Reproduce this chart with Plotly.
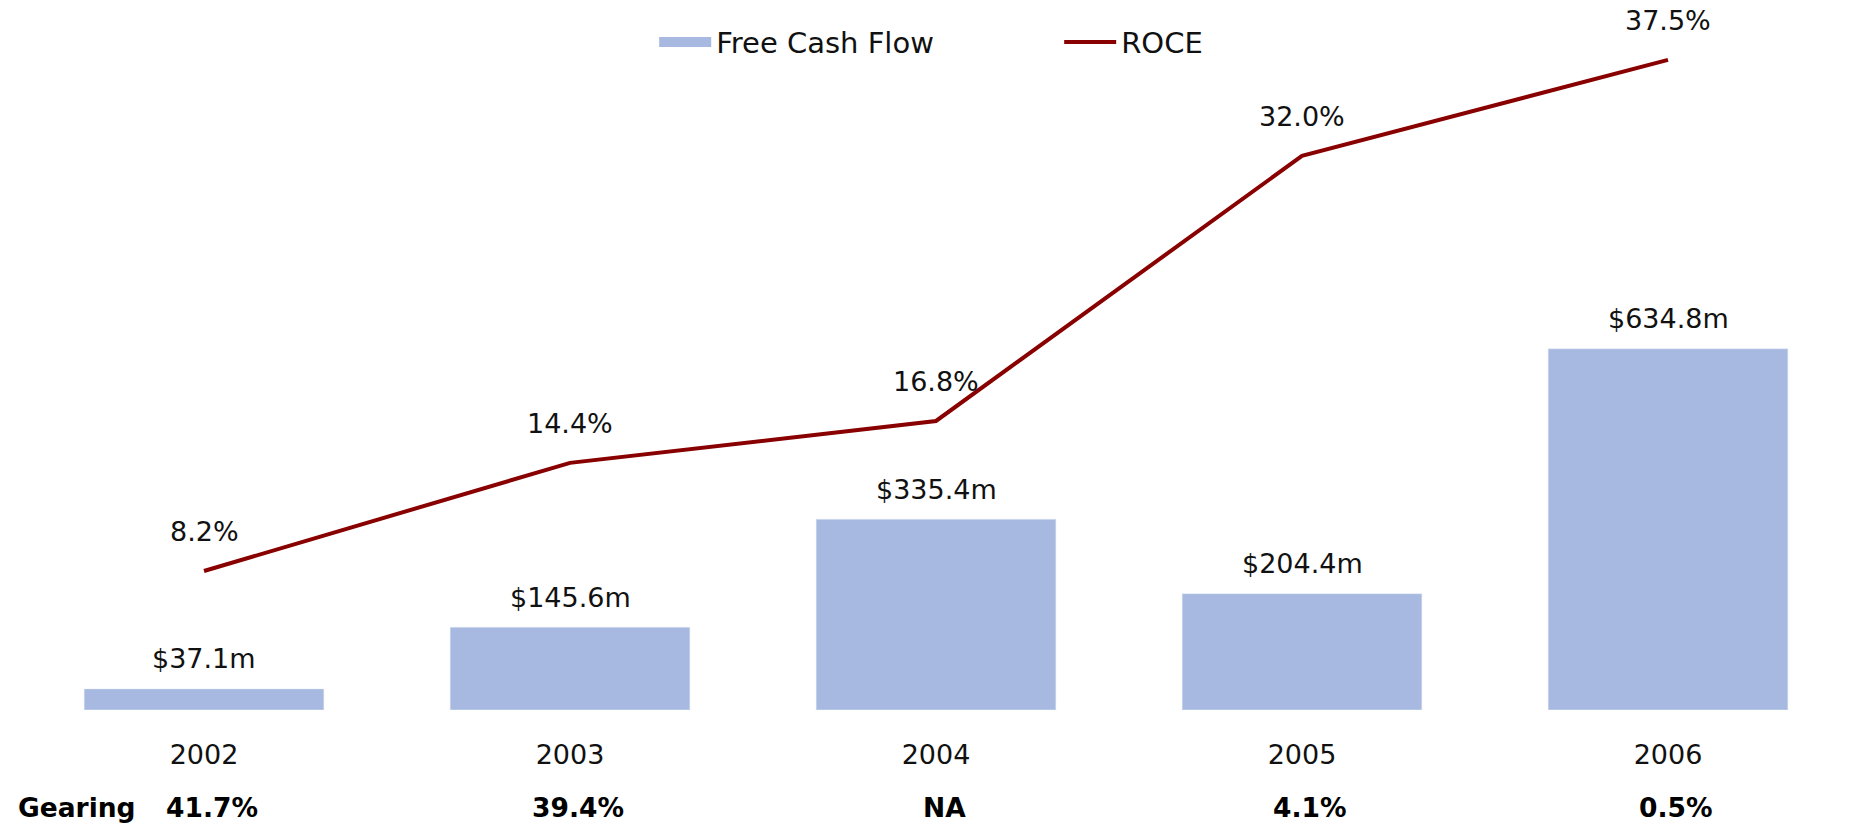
import plotly.graph_objects as go

years = ["2002", "2003", "2004", "2005", "2006"]
fcf = [37.1, 145.6, 335.4, 204.4, 634.8]
roce = [8.2, 14.4, 16.8, 32.0, 37.5]
gearing = ["41.7%", "39.4%", "NA", "4.1%", "0.5%"]

fcf_labels = [f"${v:.1f}m" for v in fcf]
roce_labels = [f"{v:.1f}%" for v in roce]

BAR_COLOR = "#A7B9E0"
LINE_COLOR = "#880000"
FONT = "DejaVu Sans"

fig = go.Figure()

fig.add_trace(go.Bar(
    x=years, y=fcf, name="Free Cash Flow", marker_color=BAR_COLOR,
    width=0.655, showlegend=False, yaxis="y",
))
# legend proxy for bars (wide flat swatch)
fig.add_trace(go.Scatter(
    x=[None], y=[None], mode="lines", name="Free Cash Flow",
    line=dict(color=BAR_COLOR, width=10), yaxis="y",
))
fig.add_trace(go.Scatter(
    x=years, y=roce, mode="lines", name="ROCE",
    line=dict(color=LINE_COLOR, width=4), yaxis="y2",
))

ann = []
for i, (v, t) in enumerate(zip(fcf, fcf_labels)):
    ann.append(dict(x=i, y=v, xref="x", yref="y", text=t, showarrow=False,
                    yanchor="middle", yshift=30,
                    font=dict(family=FONT, size=27, color="#111")))
for i, (v, t) in enumerate(zip(roce, roce_labels)):
    ann.append(dict(x=i, y=v, xref="x", yref="y2", text=t, showarrow=False,
                    yanchor="middle", yshift=39,
                    font=dict(family=FONT, size=27, color="#111")))
for i, g in enumerate(gearing):
    ann.append(dict(x=i, y=-0.142, xref="x", yref="paper", text=g, showarrow=False,
                    yanchor="middle", xshift=8,
                    font=dict(family=FONT, size=26.5, color="#000", weight="bold")))
ann.append(dict(x=0, y=-0.142, xref="paper", yref="paper", text="Gearing",
                showarrow=False, xanchor="left", yanchor="middle", xshift=-5,
                font=dict(family=FONT, size=26.5, color="#000", weight="bold")))

fig.update_layout(
    width=1862, height=836, autosize=False,
    margin=dict(l=21, r=11, t=20, b=126),
    plot_bgcolor="white", paper_bgcolor="white",
    font=dict(family=FONT, size=27, color="#111"),
    xaxis=dict(type="category", range=[-0.5, 4.5], showgrid=False, zeroline=False,
               showline=False, ticks="outside", ticklen=21, tickcolor="rgba(0,0,0,0)",
               tickfont=dict(family=FONT, size=27, color="#111")),
    yaxis=dict(range=[0, 1212.6], visible=False, showgrid=False),
    yaxis2=dict(range=[0.23, 39.79], overlaying="y", visible=False, showgrid=False),
    legend=dict(orientation="h", x=0.346, xanchor="left", y=0.968, yanchor="middle",
                font=dict(family=FONT, size=29, color="#111"),
                itemwidth=52, entrywidth=338, bgcolor="rgba(0,0,0,0)"),
    annotations=ann,
)

fig.write_html("out.html", config={"displayModeBar": False},
               post_script="document.body.style.margin='0';")
